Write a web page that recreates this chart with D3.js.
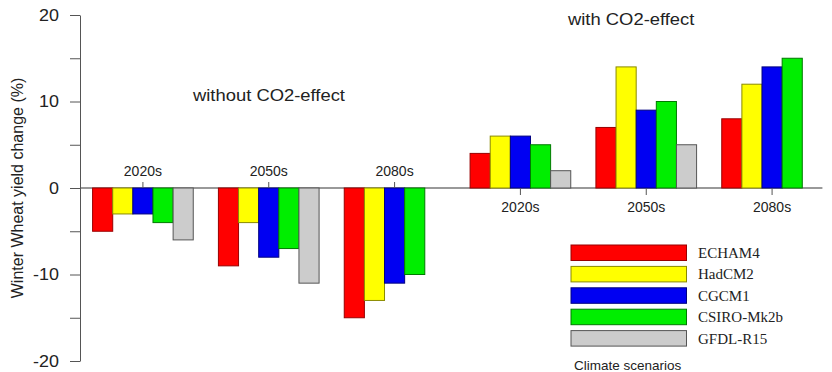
<!DOCTYPE html>
<html>
<head>
<meta charset="utf-8">
<script src="https://cdn.jsdelivr.net/npm/d3@7"></script>
<style>
  html, body { margin: 0; padding: 0; background: #fff; }
  svg { display: block; }
  text { fill: #222; }
</style>
</head>
<body>
<svg id="chart" width="832" height="372"></svg>
<script>
// ---- data ----
const periods = ["2020s", "2050s", "2080s"];
const scenarios = ["without CO2-effect", "with CO2-effect"];
const models = ["ECHAM4", "HadCM2", "CGCM1", "CSIRO-Mk2b", "GFDL-R15"];
// rows = periods, columns = models
const withoutCO2 = [
  [-5, -3, -3, -4, -6],
  [-9, -4, -8, -7, -11],
  [-15, -13, -11, -10, 0]
];
const withCO2 = [
  [4, 6, 6, 5, 2],
  [7, 14, 9, 10, 5],
  [8, 12, 14, 15, 0]
];
const yTicks = [-20, -15, -10, -5, 0, 5, 10, 15, 20];
const yLabelTicks = [-20, -10, 0, 10, 20];
const fills = ["#ff0000", "#ffff00", "#0000f2", "#00ee00", "#cccccc"];
const strokes = ["#990000", "#8a8a00", "#000080", "#007a00", "#555555"];
const yTitle = "Winter Wheat yield change (%)";
const legendTitle = "Climate scenarios";

// ---- build group table ----
const groups = [];
scenarios.forEach((s, si) => {
  const src = si === 0 ? withoutCO2 : withCO2;
  periods.forEach((p, pi) => {
    groups.push({ key: s + "|" + p, scenario: si, period: p, values: src[pi] });
  });
});

const svg = d3.select("#chart");
const sans = "'Liberation Sans', Arial, Helvetica, sans-serif";
const serif = "'Liberation Serif', 'Times New Roman', serif";

const y = d3.scaleLinear().domain([-20, 20]).range([361, 15]);
const x0 = d3.scaleBand().domain(groups.map(g => g.key)).range([80, 835])
  .paddingInner(0.2).paddingOuter(0.1);
const x1 = d3.scaleBand().domain(models).range([0, x0.bandwidth()]).padding(0);

// zero line
const lastKey = groups[groups.length - 1].key;
svg.append("line")
  .attr("x1", 80).attr("x2", x0(lastKey) + x0.bandwidth())
  .attr("y1", y(0)).attr("y2", y(0))
  .attr("stroke", "#777").attr("stroke-width", 1.5);

// bars
const g = svg.append("g");
groups.forEach(grp => {
  const gg = g.append("g").attr("transform", `translate(${x0(grp.key)},0)`);
  gg.selectAll("rect").data(grp.values.map((v, i) => ({ v, i })))
    .join("rect")
    .attr("x", d => x1(models[d.i]))
    .attr("width", x1.bandwidth())
    .attr("y", d => y(Math.max(0, d.v)))
    .attr("height", d => Math.abs(y(d.v) - y(0)))
    .attr("fill", d => fills[d.i])
    .attr("stroke", d => strokes[d.i])
    .attr("stroke-width", 1);
});

// category ticks and labels
groups.forEach(grp => {
  const cx = x0(grp.key) + x0.bandwidth() / 2;
  const up = grp.scenario === 0;
  svg.append("line")
    .attr("x1", cx).attr("x2", cx)
    .attr("y1", y(0)).attr("y2", y(0) + (up ? -6 : 7))
    .attr("stroke", "#555").attr("stroke-width", 1);
  svg.append("text")
    .attr("x", cx).attr("y", up ? 176 : 212)
    .attr("text-anchor", "middle")
    .attr("font-family", sans).attr("font-size", 14)
    .text(grp.period);
});

// y axis
const yAxis = d3.axisLeft(y).tickValues(yTicks)
  .tickFormat(d => yLabelTicks.includes(d) ? String(d) : "")
  .tickSize(10).tickSizeOuter(0).tickPadding(11);
const ya = svg.append("g").attr("transform", "translate(80,0)").call(yAxis);
ya.select(".domain").attr("stroke", "#555");
ya.selectAll(".tick line").attr("stroke", "#555");
ya.selectAll(".tick text").attr("font-family", sans).attr("font-size", 16)
  .attr("fill", "#222").attr("transform", "scale(1.12,1)")
  .each(function () {
    // keep right edge anchored despite horizontal stretch
    const t = d3.select(this);
    t.attr("x", (+t.attr("x")) / 1.12);
  });

// y title
svg.append("text")
  .attr("transform", `translate(23,${y(0)}) rotate(-90)`)
  .attr("text-anchor", "middle")
  .attr("font-family", sans).attr("font-size", 16)
  .text(yTitle);

// scenario annotations
svg.append("text")
  .attr("transform", "translate(193,101) scale(1.15,1)")
  .attr("font-family", sans).attr("font-size", 16)
  .text(scenarios[0]);
svg.append("text")
  .attr("transform", "translate(568,25) scale(1.15,1)")
  .attr("font-family", sans).attr("font-size", 16)
  .text(scenarios[1]);

// legend
const lg = svg.append("g");
models.forEach((m, i) => {
  const yy = 245 + i * 21.4;
  lg.append("rect")
    .attr("x", 571).attr("y", yy).attr("width", 115.5).attr("height", 15.5)
    .attr("fill", fills[i]).attr("stroke", strokes[i]).attr("stroke-width", 1);
  lg.append("text")
    .attr("x", 698).attr("y", yy + 13)
    .attr("font-family", serif).attr("font-size", 15)
    .text(m);
});
lg.append("text")
  .attr("x", 574).attr("y", 370)
  .attr("font-family", sans).attr("font-size", 13.5)
  .text(legendTitle);
</script>
</body>
</html>
